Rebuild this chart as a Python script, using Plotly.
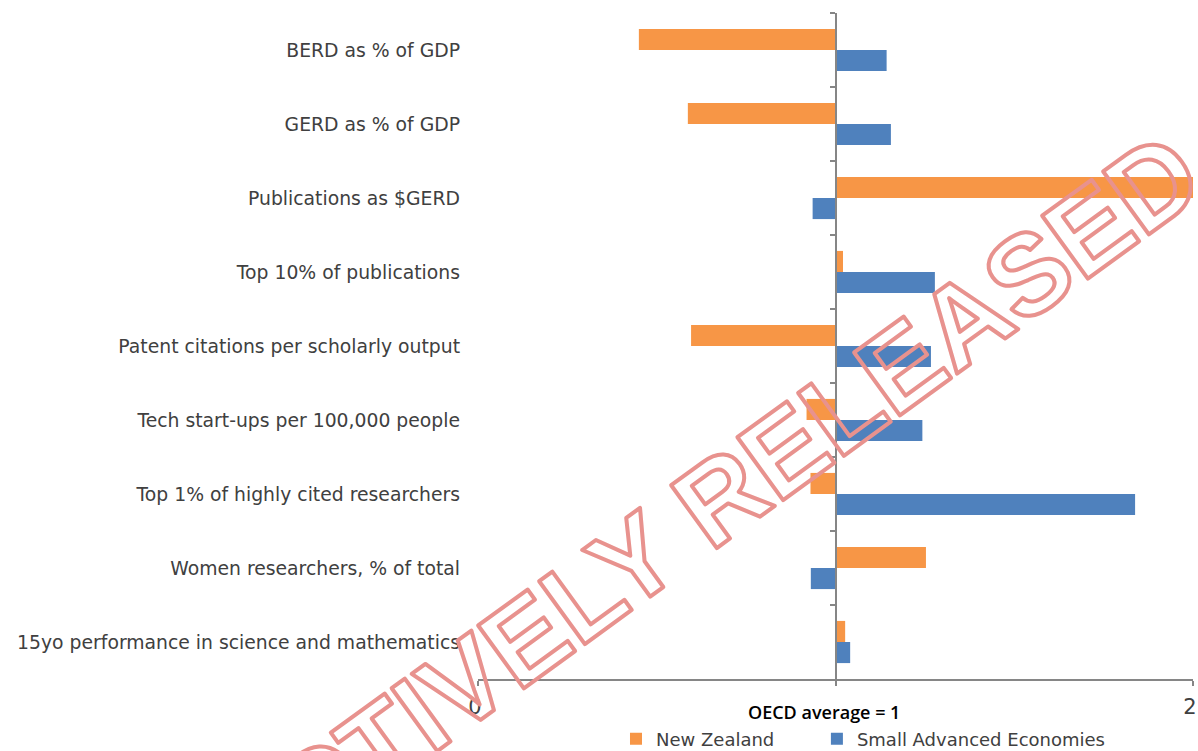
import plotly.graph_objects as go

categories = [
    "BERD as % of GDP",
    "GERD as % of GDP",
    "Publications as $GERD",
    "Top 10% of publications",
    "Patent citations per scholarly output",
    "Tech start-ups per 100,000 people",
    "Top 1% of highly cited researchers",
    "Women researchers, % of total",
    "15yo performance in science and mathematics",
]
new_zealand = [0.45, 0.587, 2.05, 1.021, 0.596, 0.919, 0.930, 1.253, 1.027]
small_advanced = [1.143, 1.155, 0.936, 1.278, 1.267, 1.243, 1.838, 0.931, 1.041]
oecd_average = 1.0
x_tick_values = [0, 1, 2]
x_tick_labels = ["0", "", "2"]

ORANGE = "#F79646"
BLUE = "#4F81BD"
AXIS = "#868686"
TEXT = "#404040"

fig = go.Figure()
fig.add_trace(go.Bar(
    name="New Zealand", y=categories,
    x=[v - oecd_average for v in new_zealand], base=oecd_average,
    orientation="h", marker=dict(color=ORANGE, line=dict(width=0)),
    legend="legend",
))
fig.add_trace(go.Bar(
    name="Small Advanced Economies", y=categories,
    x=[v - oecd_average for v in small_advanced], base=oecd_average,
    orientation="h", marker=dict(color=BLUE, line=dict(width=0)),
    legend="legend2",
))
# invisible helper trace so the centre category axis (at OECD average) is drawn
fig.add_trace(go.Scatter(
    y=categories, x=[oecd_average] * len(categories), yaxis="y2",
    mode="markers", marker=dict(opacity=0), showlegend=False, hoverinfo="skip",
))

legend_font = dict(family="DejaVu Sans", size=18, color=TEXT)

fig.update_layout(
    width=1198, height=751,
    margin=dict(l=478, r=5, t=13, b=72, autoexpand=False),
    paper_bgcolor="white", plot_bgcolor="white",
    barmode="group", bargap=0.43, bargroupgap=0,
    showlegend=True,
    legend=dict(orientation="h", x=0.193, xanchor="left", y=-0.09, yanchor="middle",
                font=legend_font),
    legend2=dict(orientation="h", x=0.474, xanchor="left", y=-0.09, yanchor="middle",
                 font=legend_font),
    xaxis=dict(
        range=[0, 2], tickvals=x_tick_values, ticktext=x_tick_labels,
        showgrid=False, zeroline=False, showline=True, linecolor=AXIS, linewidth=2,
        ticks="outside", ticklen=5, tickwidth=2, tickcolor=AXIS,
        tickfont=dict(family="DejaVu Sans", size=21, color=TEXT),
        ticklabelstandoff=3, ticklabeloverflow="allow", ticklabelshift=-3,
    ),
    yaxis=dict(
        categoryorder="array", categoryarray=categories, autorange="reversed",
        showgrid=False, zeroline=False, showline=False, ticks="",
        tickfont=dict(family="DejaVu Sans", size=18.8, color=TEXT),
        ticklabelstandoff=17,
    ),
    yaxis2=dict(
        overlaying="y", anchor="free", position=0.5, side="left",
        categoryorder="array", categoryarray=categories, autorange="reversed",
        showgrid=False, zeroline=False, showline=True, linecolor=AXIS, linewidth=2,
        ticks="outside", tickson="boundaries", ticklen=5, tickwidth=2, tickcolor=AXIS,
        showticklabels=False,
    ),
    annotations=[
        dict(text="OECD average = 1", xref="paper", yref="paper",
             x=0.484, y=-0.0495, xanchor="center", yanchor="middle", showarrow=False,
             font=dict(family="Open Sans", size=18, color="#000000", weight=600)),
        dict(text="PROACTIVELY RELEASED", xref="paper", yref="paper",
             x=0.176, y=0.146, xanchor="center", yanchor="middle", showarrow=False,
             textangle=-36,
             font=dict(family="Liberation Sans", size=113, color="#E8928E", weight="bold")),
    ],
)

post = """
document.body.style.margin = '0';
document.body.style.padding = '0';
var gd = document.getElementById('{plot_id}');
function outlineWatermark(){
  document.querySelectorAll('.annotation-text').forEach(function(t){
    if (t.textContent === 'PROACTIVELY RELEASED') {
      t.style.fill = 'none';
      t.style.stroke = '#E8928E';
      t.style.strokeWidth = '4px';
      t.style.strokeLinejoin = 'round';
    }
  });
}
outlineWatermark();
gd.on('plotly_afterplot', outlineWatermark);
"""

fig.write_html("out.html", post_script=post, config={"displayModeBar": False})
